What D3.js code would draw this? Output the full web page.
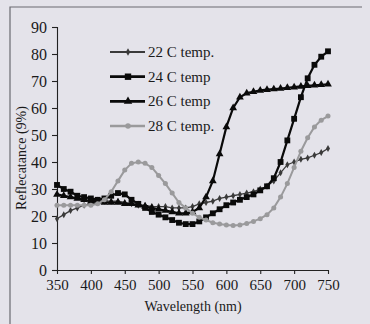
<!DOCTYPE html>
<html>
<head>
<meta charset="utf-8">
<script src="https://cdn.jsdelivr.net/npm/d3@7"></script>
<style>
  html, body { margin: 0; padding: 0; background: #e4e3ea; }
  svg { display: block; font-family: "Liberation Serif", "Times New Roman", serif; }
</style>
</head>
<body>
<figure id="chart" style="margin:0"></figure>
<script>
// wavelength in nm, one reading every 10 nm
const wavelengths = [350, 360, 370, 380, 390, 400, 410, 420, 430, 440, 450, 460, 470, 480, 490, 500,
  510, 520, 530, 540, 550, 560, 570, 580, 590, 600, 610, 620, 630, 640, 650, 660, 670, 680, 690, 700,
  710, 720, 730, 740, 750];

const temp22 = [19, 20.5, 22, 23, 24, 24.5, 25, 25.5, 25.5, 25.5, 25, 24.5, 24, 24, 23.5, 23.5,
  23.5, 23, 23, 23, 23.5, 24.5, 25, 25.5, 26.5, 27, 27.5, 28, 28.5, 29, 30, 31, 33, 36, 39, 40,
  41, 41.5, 42.5, 43.5, 45];
const temp24 = [31.5, 30, 29, 27.5, 27, 26.5, 26, 26.5, 27.5, 28.5, 28, 26, 24.5, 23, 21.5, 20.5,
  19.5, 18.5, 17.5, 17, 17, 18, 19.5, 21, 22.5, 24, 25, 26, 27, 28, 29.5, 31, 34, 40, 48, 56,
  64, 71, 76, 79, 81];
const temp26 = [28, 27.5, 27, 26.5, 26, 25.5, 25.5, 25, 25, 25, 24.5, 24.5, 24, 23.5, 23, 22.5,
  22, 21.5, 21, 21, 21.5, 23, 27, 33, 43, 53, 60, 64, 65.5, 66, 66.5, 66.8, 67, 67.2, 67.5, 67.7,
  68, 68.2, 68.4, 68.6, 68.8];
const temp28 = [24, 24, 24, 24, 24, 24, 24.5, 26, 29, 33, 37, 39.5, 40, 39.5, 38, 35,
  32, 28.5, 25, 23, 21, 19.5, 18.5, 17.5, 17, 16.7, 16.5, 16.7, 17.2, 18, 19, 20.5, 23, 27, 32, 38,
  44, 49, 53, 55.5, 57];

const seriesNames = ["22 C temp.", "24 C temp", "26 C temp", "28 C temp."];
const xTicks = [350, 400, 450, 500, 550, 600, 650, 700, 750];
const yTicks = [0, 10, 20, 30, 40, 50, 60, 70, 80, 90];

const series = [
  { name: seriesNames[0], values: temp22, color: "#3a3a3a", width: 1.3, symbol: d3.symbolDiamond, size: 14 },
  { name: seriesNames[1], values: temp24, color: "#0a0a0a", width: 2.2, symbol: d3.symbolSquare, size: 34 },
  { name: seriesNames[2], values: temp26, color: "#0a0a0a", width: 2.2, symbol: d3.symbolTriangle, size: 26 },
  { name: seriesNames[3], values: temp28, color: "#9a9a9c", width: 2, symbol: d3.symbolCircle, size: 20 }
];

const W = 370, H = 324;
const serif = "'Liberation Serif', 'Times New Roman', serif";
const svg = d3.select("#chart").append("svg").attr("width", W).attr("height", H);

// scanned page frame
svg.append("rect").attr("width", W).attr("height", H).attr("fill", "#e4e3ea");
svg.append("path").attr("d", "M10,324V7H362").attr("fill", "none").attr("stroke", "#6a6a70").attr("stroke-width", 1.2);

const x = d3.scaleLinear().domain([350, 750]).range([57, 328]);
const y = d3.scaleLinear().domain([0, 90]).range([270, 27]);

// y axis
const yAxis = svg.append("g")
  .attr("transform", "translate(57,0)")
  .call(d3.axisLeft(y).tickValues(yTicks).tickSize(5).tickPadding(5))
  .attr("font-family", serif);
yAxis.selectAll("text").style("font-size", "16px").attr("fill", "#1a1a1a");

// x axis
const xAxis = svg.append("g")
  .attr("transform", "translate(0,270)")
  .call(d3.axisBottom(x).tickValues(xTicks).tickSize(4).tickPadding(5).tickSizeOuter(0))
  .attr("font-family", serif);
xAxis.selectAll("text").style("font-size", "15px").attr("fill", "#1a1a1a");
svg.selectAll(".domain, .tick line").attr("stroke", "#222").attr("stroke-width", 1.1);

// axis titles
svg.append("text").attr("x", 193).attr("y", 311).attr("text-anchor", "middle")
  .style("font-size", "14px").attr("fill", "#1a1a1a").text("Wavelength (nm)");
svg.append("text").attr("transform", "translate(26,158) rotate(-90)").attr("text-anchor", "middle")
  .style("font-size", "14px").attr("fill", "#1a1a1a").text("Reflecatance (9%)");

// lines and markers
const line = d3.line().x((d, i) => x(wavelengths[i])).y(d => y(d));
series.forEach(s => {
  svg.append("path").datum(s.values)
    .attr("d", line).attr("fill", "none")
    .attr("stroke", s.color).attr("stroke-width", s.width);
  svg.append("g").selectAll("path").data(s.values).join("path")
    .attr("transform", (d, i) => `translate(${x(wavelengths[i])},${y(d)})`)
    .attr("d", d3.symbol().type(s.symbol).size(s.size))
    .attr("fill", s.color);
});

// legend
const legend = svg.append("g");
series.forEach((s, i) => {
  const ly = 52 + i * 24.7;
  legend.append("line").attr("x1", 110).attr("x2", 145).attr("y1", ly).attr("y2", ly)
    .attr("stroke", s.color).attr("stroke-width", s.width + 0.5);
  legend.append("path").attr("transform", `translate(128,${ly})`)
    .attr("d", d3.symbol().type(s.symbol).size(s.size * 1.2)).attr("fill", s.color);
  legend.append("text").attr("x", 148).attr("y", ly + 5)
    .style("font-size", "15px").attr("fill", "#1a1a1a").text(s.name);
});
</script>
</body>
</html>
